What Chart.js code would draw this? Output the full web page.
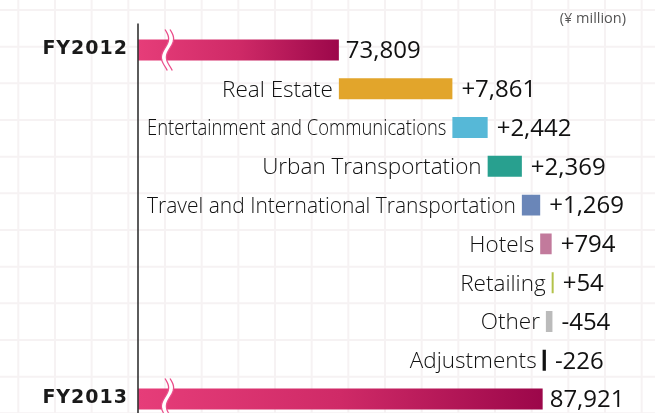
<!DOCTYPE html>
<html>
<head>
<meta charset="utf-8">
<script src="https://cdn.jsdelivr.net/npm/chart.js@4/dist/chart.umd.min.js"></script>
<style>
html,body{margin:0;padding:0;background:#fff;overflow:hidden;width:655px;height:413px;}
canvas{display:block;}
</style>
</head>
<body>
<canvas id="c" width="655" height="420"></canvas>
<script>
// ---- data ----
const startLabel = 'FY2012';
const endLabel = 'FY2013';
const startTotal = 73809;
const endTotal = 87921;
const segmentNames = ['Real Estate','Entertainment and Communications','Urban Transportation','Travel and International Transportation','Hotels','Retailing','Other','Adjustments'];
const segmentChanges = [7861, 2442, 2369, 1269, 794, 54, -454, -226];
const unitNote = '(¥ million)';
const axisBreakValue = 59900; // axis is broken: bars start here
const axisMaxValue = 95700;

// ---- styles ----
const segmentColors = ['#e2a52b','#56b8d7','#28a08f','#6a86b8','#c27a9c','#b3c24a','#bbbbbb','#111111'];

const categories = [startLabel, ...segmentNames, endLabel];
const floating = [];
floating.push([axisBreakValue, startTotal]);
let run = startTotal;
segmentChanges.forEach(d => { floating.push([run, run + d]); run += d; });
floating.push([axisBreakValue, endTotal]);
const isTotal = i => i === 0 || i === categories.length - 1;
const valueText = i => {
  if (i === 0) return startTotal.toLocaleString('en-US');
  if (i === categories.length - 1) return endTotal.toLocaleString('en-US');
  const d = segmentChanges[i - 1];
  return (d > 0 ? '+' : '-') + Math.abs(d).toLocaleString('en-US');
};

function barColor(ctx) {
  const i = ctx.dataIndex;
  if (!isTotal(i)) return segmentColors[i - 1];
  const chart = ctx.chart;
  const xs = chart.scales && chart.scales.x;
  if (!chart.chartArea || !xs) return '#d0306a';
  const v = floating[i];
  const x0 = xs.getPixelForValue(v[0]), x1 = xs.getPixelForValue(v[1]);
  const g = chart.ctx.createLinearGradient(x0, 0, x1, 0);
  g.addColorStop(0, '#e63d79');
  g.addColorStop(0.5, '#cf2a67');
  g.addColorStop(1, '#9c074a');
  return g;
}

const bgPlugin = {
  id: 'bgGrid',
  beforeDraw(chart) {
    const c = chart.ctx;
    c.save();
    c.fillStyle = '#ffffff';
    c.fillRect(0, 0, chart.width, chart.height);
    c.strokeStyle = '#f6f2f3';
    c.lineWidth = 2;
    const step = 36.67;
    for (let x = 18.3; x < chart.width; x += step) {
      c.beginPath(); c.moveTo(x, 0); c.lineTo(x, chart.height); c.stroke();
    }
    for (let y = 10; y < chart.height; y += step) {
      c.beginPath(); c.moveTo(0, y); c.lineTo(chart.width, y); c.stroke();
    }
    c.restore();
  }
};

const labelPlugin = {
  id: 'labels',
  afterDatasetsDraw(chart) {
    const c = chart.ctx;
    const area = chart.chartArea;
    const meta = chart.getDatasetMeta(0);
    c.save();
    // axis line
    c.strokeStyle = '#333333';
    c.lineWidth = 1.6;
    c.beginPath();
    c.moveTo(area.left, area.top - 7);
    c.lineTo(area.left, chart.height);
    c.stroke();

    meta.data.forEach((el, i) => {
      const left = Math.min(el.x, el.base);
      const right = Math.max(el.x, el.base);
      const y = el.y;
      c.textBaseline = 'middle';
      if (isTotal(i)) {
        // axis break symbol
        const bx = area.left + 27;
        const amp = 3.6, half = 20.5, w = 5;
        const pts = [];
        for (let t = -half; t <= half; t += 1) {
          pts.push([bx + amp * Math.sin(2 * Math.PI * (t + half) / 37), y + t]);
        }
        c.beginPath();
        pts.forEach((p, k) => k ? c.lineTo(p[0], p[1]) : c.moveTo(p[0], p[1]));
        for (let k = pts.length - 1; k >= 0; k--) c.lineTo(pts[k][0] + w, pts[k][1]);
        c.closePath();
        c.fillStyle = '#ffffff';
        c.fill();
        c.strokeStyle = '#ea4c89';
        c.lineWidth = 1.3;
        c.beginPath();
        pts.forEach((p, k) => k ? c.lineTo(p[0], p[1]) : c.moveTo(p[0], p[1]));
        c.stroke();
        c.beginPath();
        pts.forEach((p, k) => k ? c.lineTo(p[0] + w, p[1]) : c.moveTo(p[0] + w, p[1]));
        c.stroke();

        c.fillStyle = '#1a1a1a';
        c.font = 'bold 19px "DejaVu Sans"';
        c.textAlign = 'right';
        try { c.letterSpacing = '1px'; } catch (e) {}
        c.fillText(categories[i], area.left - 10, y - 1);
        try { c.letterSpacing = '0px'; } catch (e) {}
        c.font = '24px "Open Sans"';
        c.textAlign = 'left';
        c.fillStyle = '#111111';
        c.fillText(valueText(i), right + 7, y + 1.5);
      } else {
        c.font = '300 22.5px "Open Sans"';
        c.fillStyle = '#111111';
        c.textAlign = 'right';
        const maxW = (left - 6) - (area.left + 9);
        c.fillText(categories[i], left - 6, y + 1.5, maxW);
        c.font = '24px "Open Sans"';
        c.fillStyle = '#111111';
        c.textAlign = 'left';
        c.fillText(valueText(i), right + 9, y + 1.5);
      }
    });

    c.font = '14.5px "Open Sans"';
    c.fillStyle = '#555555';
    c.textAlign = 'right';
    c.textBaseline = 'middle';
    c.fillText(unitNote, 626, 19);
    c.restore();
  }
};

new Chart(document.getElementById('c'), {
  type: 'bar',
  data: {
    labels: categories,
    datasets: [{
      data: floating,
      backgroundColor: barColor,
      borderWidth: 0,
      borderSkipped: false,
      categoryPercentage: 1,
      barPercentage: 0.54,
      minBarLength: 2
    }]
  },
  options: {
    indexAxis: 'y',
    responsive: false,
    animation: false,
    layout: { padding: { top: 30.6, left: 138, right: 0, bottom: 1.6 } },
    plugins: { legend: { display: false }, tooltip: { enabled: false } },
    scales: {
      x: { display: false, min: axisBreakValue, max: axisMaxValue },
      y: { display: false }
    }
  },
  plugins: [bgPlugin, labelPlugin]
});
</script>
</body>
</html>
